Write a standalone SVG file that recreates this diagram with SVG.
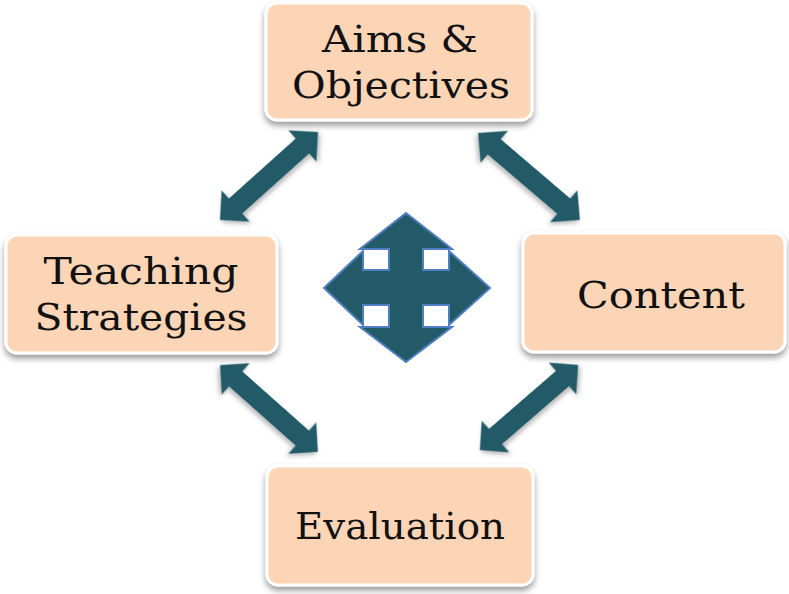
<svg xmlns="http://www.w3.org/2000/svg" width="789" height="594" viewBox="0 0 789 594">
<defs>
<filter id="sh" x="-10%" y="-10%" width="120%" height="130%">
<feDropShadow dx="0" dy="4" stdDeviation="3" flood-color="#000" flood-opacity="0.4"/>
</filter>
<filter id="ash" x="-20%" y="-20%" width="140%" height="140%">
<feDropShadow dx="0" dy="3" stdDeviation="2.5" flood-color="#000" flood-opacity="0.3"/>
</filter>
<path id="arr" d="M-66,0 L-45,-21 L-45,-10 L45,-10 L45,-21 L66,0 L45,21 L45,10 L-45,10 L-45,21 Z"/>
<style>
.box{fill:#FBD5B5;stroke:#fff;stroke-width:3;filter:url(#sh)}
.lbl{font-family:"DejaVu Serif","Liberation Serif",serif;font-size:37px;fill:#111;text-anchor:middle}
.arrow{fill:#235A68;filter:url(#ash)}
.quad{fill:#235A68;stroke:#4F7FC0;stroke-width:2;stroke-linejoin:miter}
</style>
</defs>
<rect width="789" height="594" fill="#fff"/>
<g id="connectors">
<use href="#arr" class="arrow" transform="translate(269,176) rotate(-41.9) scale(0.998,1)"/>
<use href="#arr" class="arrow" transform="translate(529,176.5) rotate(40.5) scale(1.015,1)"/>
<use href="#arr" class="arrow" transform="translate(269,408.5) rotate(41.6) scale(0.99,1)"/>
<use href="#arr" class="arrow" transform="translate(529,407.5) rotate(-40.9) scale(0.985,1)"/>
</g>
<g id="center-icon">
<polygon class="quad" points="406,213 452,249 423,249 423,270 449,270 449,251 490,288 449,325 449,305 423,305 423,327 452,327 406,362 360,327 389,327 389,305 363,305 363,325 324,288 363,251 363,270 389,270 389,249 360,249"/>
</g>
<g id="aims">
<rect class="box" x="266" y="3" width="266" height="117" rx="11"/>
<text class="lbl" x="400" y="52" textLength="156" lengthAdjust="spacingAndGlyphs">Aims &amp;</text>
<text class="lbl" x="401" y="98" textLength="218" lengthAdjust="spacingAndGlyphs">Objectives</text>
</g>
<g id="teaching">
<rect class="box" x="6" y="235" width="271" height="118" rx="11"/>
<text class="lbl" x="141" y="284" textLength="195" lengthAdjust="spacingAndGlyphs">Teaching</text>
<text class="lbl" x="141" y="330" textLength="213" lengthAdjust="spacingAndGlyphs">Strategies</text>
</g>
<g id="content">
<rect class="box" x="523" y="233" width="262" height="119" rx="11"/>
<text class="lbl" x="661" y="308" textLength="168" lengthAdjust="spacingAndGlyphs">Content</text>
</g>
<g id="evaluation">
<rect class="box" x="267" y="466" width="266" height="119" rx="11"/>
<text class="lbl" x="400" y="539" textLength="210" lengthAdjust="spacingAndGlyphs">Evaluation</text>
</g>
</svg>
